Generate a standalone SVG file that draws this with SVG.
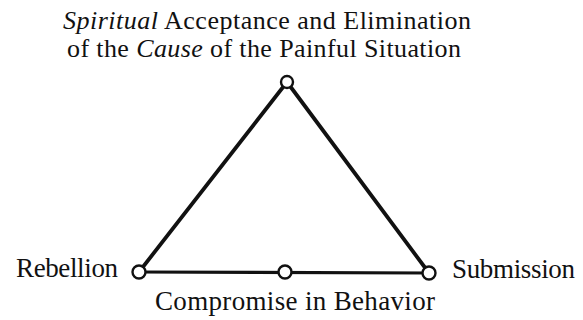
<svg xmlns="http://www.w3.org/2000/svg" width="583" height="320" viewBox="0 0 583 320">
<style>
text{font-family:"Liberation Serif","Times New Roman",serif;font-size:26px;fill:#111}
.lbl{font-size:27px}
.e{stroke:#111;stroke-width:3.8;fill:none;stroke-linecap:round}
.b{stroke-width:3.2}
.n{fill:#fff;stroke:#111;stroke-width:2.4}
</style>
<rect width="583" height="320" fill="#fff"/>
<g id="edges">
<line class="e" x1="287" y1="82" x2="139" y2="272"/>
<line class="e" x1="287" y1="82" x2="429" y2="273"/>
<line class="e b" x1="139" y1="272" x2="429" y2="273"/>
</g>
<g id="top"><circle class="n" cx="287" cy="82" r="6"/>
<text x="63" y="29" textLength="408" lengthAdjust="spacing"><tspan font-style="italic">Spiritual</tspan> Acceptance and Elimination</text>
<text x="67" y="57" textLength="394" lengthAdjust="spacing">of the <tspan font-style="italic">Cause</tspan> of the Painful Situation</text></g>
<g id="rebellion"><circle class="n" cx="139" cy="272" r="6.5"/><text class="lbl" x="16" y="277" textLength="102" lengthAdjust="spacing">Rebellion</text></g>
<g id="compromise"><circle class="n" cx="285" cy="272" r="6.5"/><text class="lbl" x="155" y="310" textLength="280" lengthAdjust="spacing">Compromise in Behavior</text></g>
<g id="submission"><circle class="n" cx="429" cy="273" r="6.5"/><text class="lbl" x="452" y="278" textLength="123" lengthAdjust="spacing">Submission</text></g>
</svg>
